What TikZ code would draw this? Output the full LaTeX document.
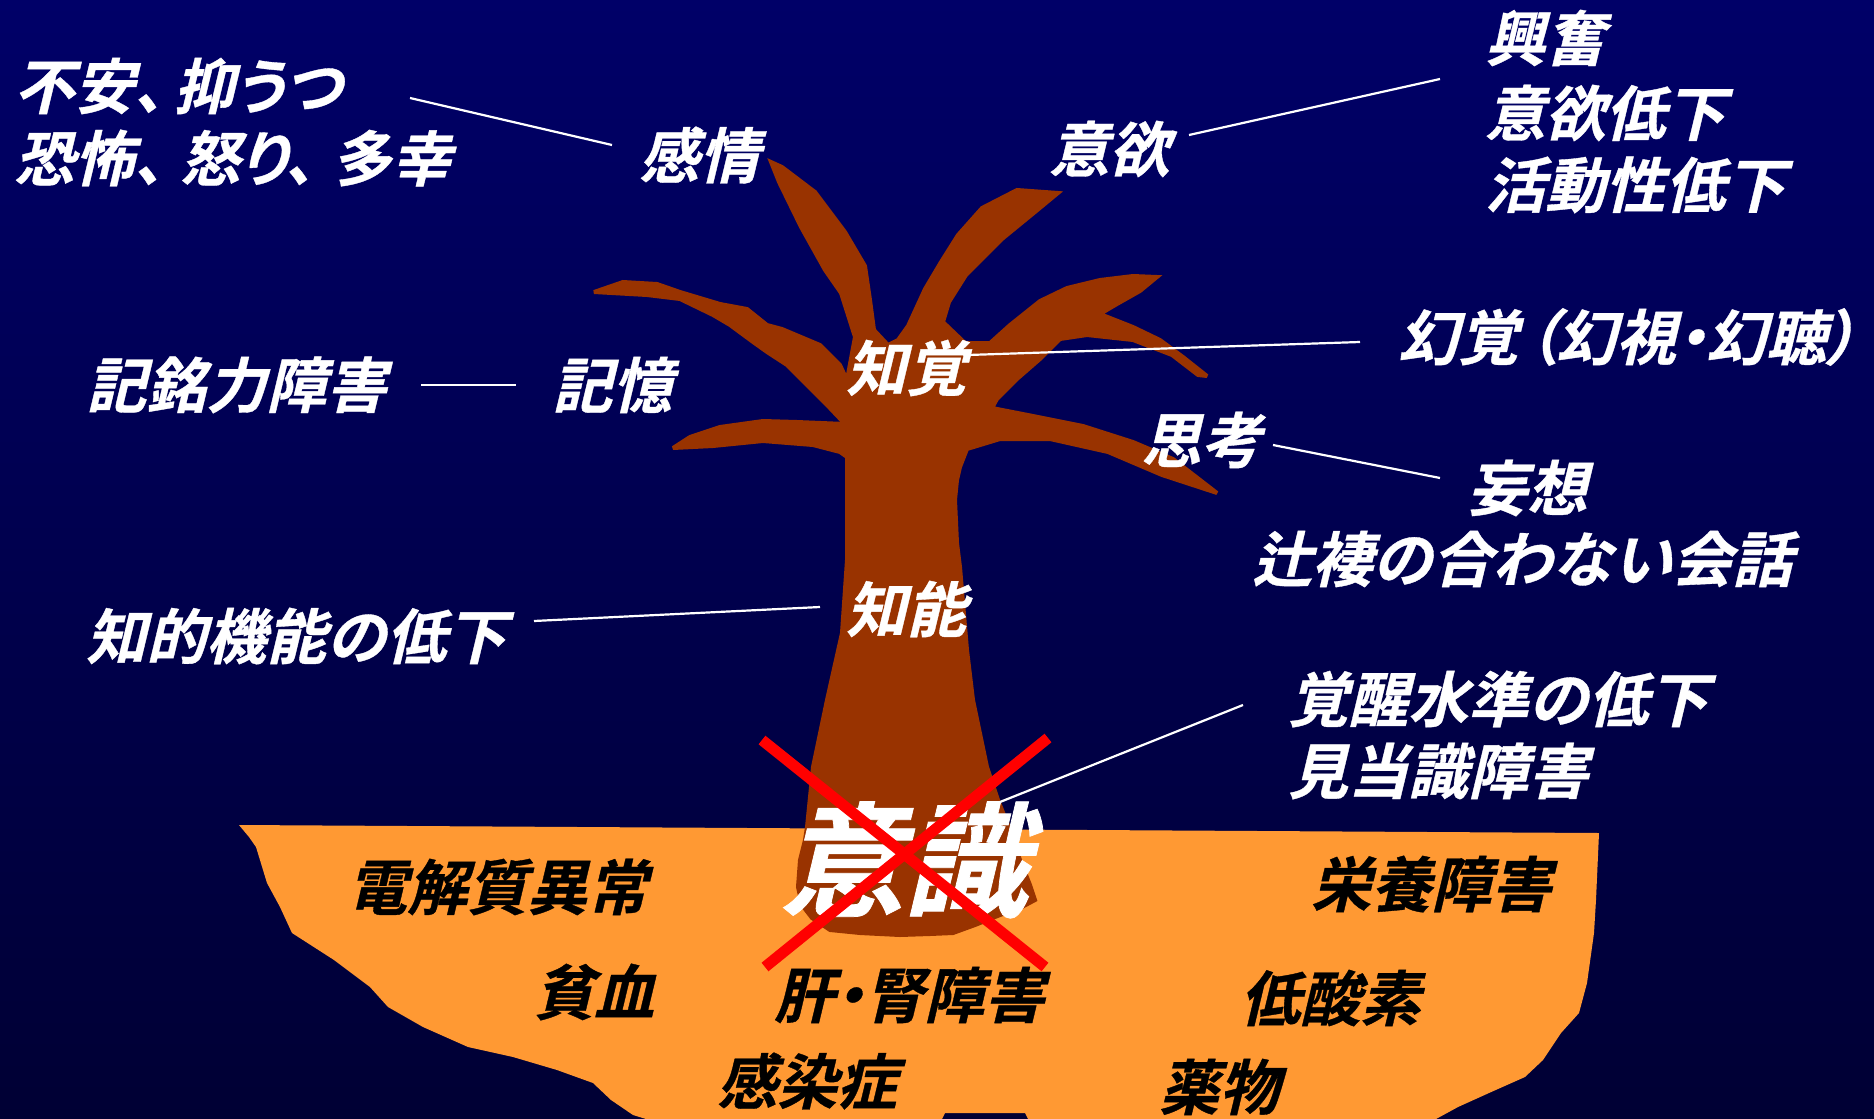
\documentclass[tikz,border=0pt]{standalone}
\usepackage{fontspec}
\newfontfamily\jp{Noto Sans CJK JP}[UprightFont=* Bold, FakeSlant=0.24, FakeBold=0.6]
\definecolor{navytop}{RGB}{0,0,104}
\definecolor{navybot}{RGB}{0,0,52}
\definecolor{bark}{RGB}{153,51,0}
\definecolor{soil}{RGB}{255,153,51}
\begin{document}
\begin{tikzpicture}[x=1pt,y=-1pt,
  lab/.style={font=\jp\fontsize{60}{66}\selectfont, text=white, inner sep=0pt, anchor=west},
  gnd/.style={lab, text=black},
  big/.style={lab, font=\jp\fontsize{124}{130}\selectfont},
  link/.style={draw=white, line width=2.2pt},
  cross/.style={draw=red, line width=11pt}]
\useasboundingbox (0,0) rectangle (1874,1119);
% night sky
\shade[top color=navytop, bottom color=navybot] (0,0) rectangle (1874,1119);
% ground
\fill[soil] (239,825) -- (1599,833) -- (1596,900) -- (1594,933) -- (1587,983)
  -- (1579,1013) -- (1561,1033) -- (1543,1060) -- (1525,1077) -- (1489,1093)
  -- (1458,1107) -- (1436,1119) -- (1028,1119) -- (1025,1113) -- (945,1113)
  -- (942,1119) -- (646,1119) -- (633,1115) -- (611,1100) -- (593,1083)
  -- (557,1070) -- (513,1057) -- (468,1047) -- (423,1027) -- (388,1007)
  -- (370,987) -- (334,960) -- (292,933) -- (280,907) -- (267,883)
  -- (256,847) -- (249,837) -- cycle;
% tree: trunk, branches and root
\filldraw[fill=bark, draw=bark, line width=4pt, line join=miter, miter limit=3]
  (807,827) -- (813,767) -- (827,700) -- (842,633) -- (847,560)
  -- (847,500) -- (847,457)
  % lower left branch
  -- (840,452) -- (813,445) -- (763,441) -- (713,446) -- (673,448)
  -- (690,437) -- (720,427) -- (763,421) -- (797,422) -- (845,424)
  % long left branch
  -- (827,405) -- (807,385) -- (787,365) -- (767,352) -- (753,342)
  -- (730,325) -- (713,315) -- (680,299) -- (647,295) -- (594,292)
  -- (623,282) -- (657,284) -- (680,292) -- (720,304) -- (747,309)
  -- (767,325) -- (782,329) -- (820,345) -- (840,365) -- (847,380)
  % upper left branch
  -- (855,337) -- (841,293) -- (825,270) -- (801,227) -- (779,182) -- (771,162)
  -- (782,167) -- (815,192) -- (845,232) -- (865,266) -- (870,300)
  -- (874,330) -- (888,345)
  % upper right branch
  -- (898,340) -- (908,326) -- (925,289) -- (941,262) -- (958,235)
  -- (982,208) -- (1017,190) -- (1058,193) -- (1035,212) -- (1002,239)
  -- (966,275) -- (949,302) -- (943,322) -- (965,343)
  % middle right branch with its fork
  -- (990,343) -- (1010,325) -- (1040,301) -- (1067,288) -- (1100,280)
  -- (1133,276) -- (1157,277) -- (1140,291) -- (1117,304) -- (1100,314)
  -- (1133,327) -- (1160,340) -- (1183,357) -- (1207,376) -- (1198,375)
  -- (1172,355) -- (1133,340) -- (1087,335) -- (1060,339) -- (1040,359)
  -- (1017,379) -- (997,399) -- (992,408)
  % lower right branch
  -- (1033,416) -- (1083,426) -- (1133,442) -- (1173,459) -- (1217,493)
  -- (1162,475) -- (1108,452) -- (1050,439) -- (1000,439) -- (967,449)
  -- (960,467) -- (957,480)
  % trunk right side and root
  -- (955,500) -- (957,543) -- (960,567) -- (967,650) -- (973,700)
  -- (987,767) -- (998,800) -- (1010,830) -- (1020,860) -- (1030,885)
  -- (1035,900) -- (1020,908) -- (1000,915) -- (975,925) -- (953,933)
  -- (930,934) -- (900,935) -- (860,933) -- (830,930) -- (812,918)
  -- (802,905) -- (798,887) -- (800,860) -- (805,840) -- cycle;

% labels on the tree
\node[lab] (kanjo)   at (639,155) {感情};
\node[lab] (iyoku)   at (1049,149) {意欲};
\node[lab] (chikaku) at (846,368) {知覚};
\node[lab] (kioku)   at (552,385) {記憶};
\node[lab] (shiko)   at (1141,440) {思考};
\node[lab] (chino)   at (846,609) {知能};
\node[big] (ishiki)  at (780,860) {意識};

% symptoms
\node[lab] (fuan)    at (14,86) {\addfontfeatures{RawFeature=+palt}不安、\hspace{10pt}抑うつ};
\node[lab] (kyofu)   at (14,158) {\addfontfeatures{RawFeature=+palt}恐怖、\hspace{16pt}怒り、\hspace{16pt}多幸};
\node[lab] (kofun)   at (1485,38) {興奮};
\node[lab] (iyokut)  at (1485,113) {意欲低下};
\node[lab] (katsudo) at (1485,185) {活動性低下};
\node[lab] (genkaku) at (1398,337) {\addfontfeatures{RawFeature=+palt}幻覚\hspace{8pt}（幻視・幻聴）};
\node[lab] (kimei)   at (86,385) {記銘力障害};
\node[lab] (moso)    at (1467,488) {妄想};
\node[lab] (tsuji)   at (1252,559) {辻褄の合わない会話};
\node[lab] (chiteki) at (86,636) {知的機能の低下};
\node[lab] (kakusei) at (1288,699) {覚醒水準の低下};
\node[lab] (kento)   at (1288,771) {見当識障害};

% causes in the ground
\node[gnd] (denkai)  at (347,887) {電解質異常};
\node[gnd] (eiyo)    at (1311,884) {栄養障害};
\node[gnd] (hinketsu) at (534,992) {貧血};
\node[gnd] (kanjin)  at (774,995) {\addfontfeatures{RawFeature=+palt}肝・腎障害};
\node[gnd] (teisanso) at (1240,998) {低酸素};
\node[gnd] (kansen)  at (717,1081) {感染症};
\node[gnd] (yakubutsu) at (1159,1087) {薬物};

% leader lines
\coordinate (k1) at (410,98);    \coordinate (k2) at (612,145);
\coordinate (y1) at (1189,135);  \coordinate (y2) at (1440,79);
\coordinate (c1) at (968,355);   \coordinate (c2) at (1360,342);
\coordinate (m1) at (421,385);   \coordinate (m2) at (516,385);
\coordinate (s1) at (1273,445);  \coordinate (s2) at (1440,478);
\coordinate (n1) at (534,621);   \coordinate (n2) at (820,607);
\coordinate (i1) at (1000,802);  \coordinate (i2) at (1243,705);
\draw[link] (k1) -- (k2);
\draw[link] (y1) -- (y2);
\draw[link] (c1) -- (c2);
\draw[link] (m1) -- (m2);
\draw[link] (s1) -- (s2);
\draw[link] (n1) -- (n2);
\draw[link] (i1) -- (i2);

% consciousness crossed out
\coordinate (x1) at (762,740);  \coordinate (x2) at (1045,967);
\coordinate (x3) at (1048,738); \coordinate (x4) at (765,967);
\draw[cross] (x1) -- (x2);
\draw[cross] (x3) -- (x4);
\end{tikzpicture}
\end{document}
